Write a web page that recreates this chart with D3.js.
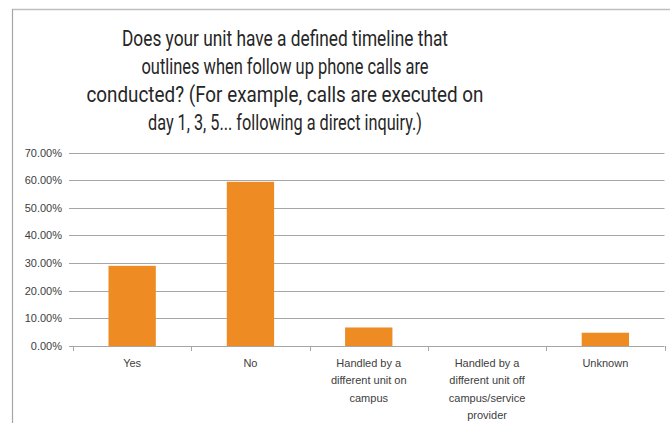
<!DOCTYPE html>
<html><head><meta charset="utf-8">
<script src="https://cdn.jsdelivr.net/npm/d3@7/dist/d3.min.js"></script>
<style>
html,body{margin:0;padding:0;background:#fff;}
svg{display:block;}
</style></head>
<body>
<svg id="chart" width="670" height="423"></svg>
<script>
const titleLines = [
  "Does your unit have a defined timeline that",
  "outlines when follow up phone calls are",
  "conducted? (For example, calls are executed on",
  "day 1, 3, 5... following a direct inquiry.)"
];
const categories = [
  "Yes",
  "No",
  "Handled by a different unit on campus",
  "Handled by a different unit off campus/service provider",
  "Unknown"
];
const categoryLines = [
  ["Yes"],
  ["No"],
  ["Handled by a", "different unit on", "campus"],
  ["Handled by a", "different unit off", "campus/service", "provider"],
  ["Unknown"]
];
const values = [0.290, 0.594, 0.067, 0, 0.048];
const yTicks = [0, 0.1, 0.2, 0.3, 0.4, 0.5, 0.6, 0.7];

const svg = d3.select("#chart");
const plot = {left: 73, right: 664.5, top: 152.5, bottom: 346};
const titleWidths = [326, 287, 397, 274];

// chart border (cropped on right/bottom)
svg.append("line").attr("x1", 12).attr("x2", 670).attr("y1", 9.5).attr("y2", 9.5)
  .attr("stroke", "#bfbfbf").attr("stroke-width", 1.5);
svg.append("line").attr("x1", 12.5).attr("x2", 12.5).attr("y1", 9).attr("y2", 423)
  .attr("stroke", "#a6a6a6").attr("stroke-width", 1.2);

// title
const title = svg.append("g")
  .attr("font-family", "Roboto,'Liberation Sans',sans-serif")
  .attr("font-size", 21.5).attr("fill", "#262626").attr("text-anchor", "middle");
titleLines.forEach((t, i) => {
  title.append("text").attr("x", 285).attr("y", 46 + i * 28)
    .attr("textLength", titleWidths[i]).attr("lengthAdjust", "spacingAndGlyphs").text(t);
});

const x = d3.scaleBand().domain(categories).range([plot.left, plot.right]).paddingInner(0.6).paddingOuter(0.3);
const xb = d3.scaleBand().domain(categories).range([plot.left, plot.right]);
const y = d3.scaleLinear().domain([0, 0.7]).range([plot.bottom, plot.top]);

// gridlines
svg.append("g").selectAll("line").data(yTicks).join("line")
  .attr("x1", plot.left - 4).attr("x2", plot.right)
  .attr("y1", d => Math.round(y(d)) + 0.5).attr("y2", d => Math.round(y(d)) + 0.5)
  .attr("stroke", "#a6a6a6").attr("stroke-width", 1);

// y tick labels
const yAxis = d3.axisLeft(y).tickValues(yTicks).tickFormat(d => (d * 100).toFixed(2) + "%").tickSize(0).tickPadding(0);
const gy = svg.append("g").attr("transform", `translate(${plot.left - 11},0)`).call(yAxis);
gy.select(".domain").remove();
gy.selectAll("text").attr("font-family", "'Liberation Sans',Arial,sans-serif").attr("font-size", 11).attr("fill", "#404040");

// bars
svg.append("g").selectAll("rect").data(values).join("rect")
  .attr("x", (d, i) => x(categories[i]))
  .attr("width", x.bandwidth())
  .attr("y", d => y(d))
  .attr("height", d => y(0) - y(d))
  .attr("fill", "#ee8b22");

// category axis ticks
const bounds = categories.map(c => xb(c)).concat([plot.right]);
svg.append("g").selectAll("line").data(bounds).join("line")
  .attr("x1", d => Math.round(d) + 0.5).attr("x2", d => Math.round(d) + 0.5)
  .attr("y1", plot.bottom).attr("y2", plot.bottom + 5)
  .attr("stroke", "#a6a6a6");

// category labels
const labG = svg.append("g").attr("font-family", "'Liberation Sans',Arial,sans-serif")
  .attr("font-size", 11).attr("fill", "#404040").attr("text-anchor", "middle");
categories.forEach((c, i) => {
  const t = labG.append("text");
  categoryLines[i].forEach((ln, j) => {
    t.append("tspan").attr("x", xb(c) + xb.bandwidth() / 2).attr("y", 367 + j * 17.4).text(ln);
  });
});
</script>
</body></html>
